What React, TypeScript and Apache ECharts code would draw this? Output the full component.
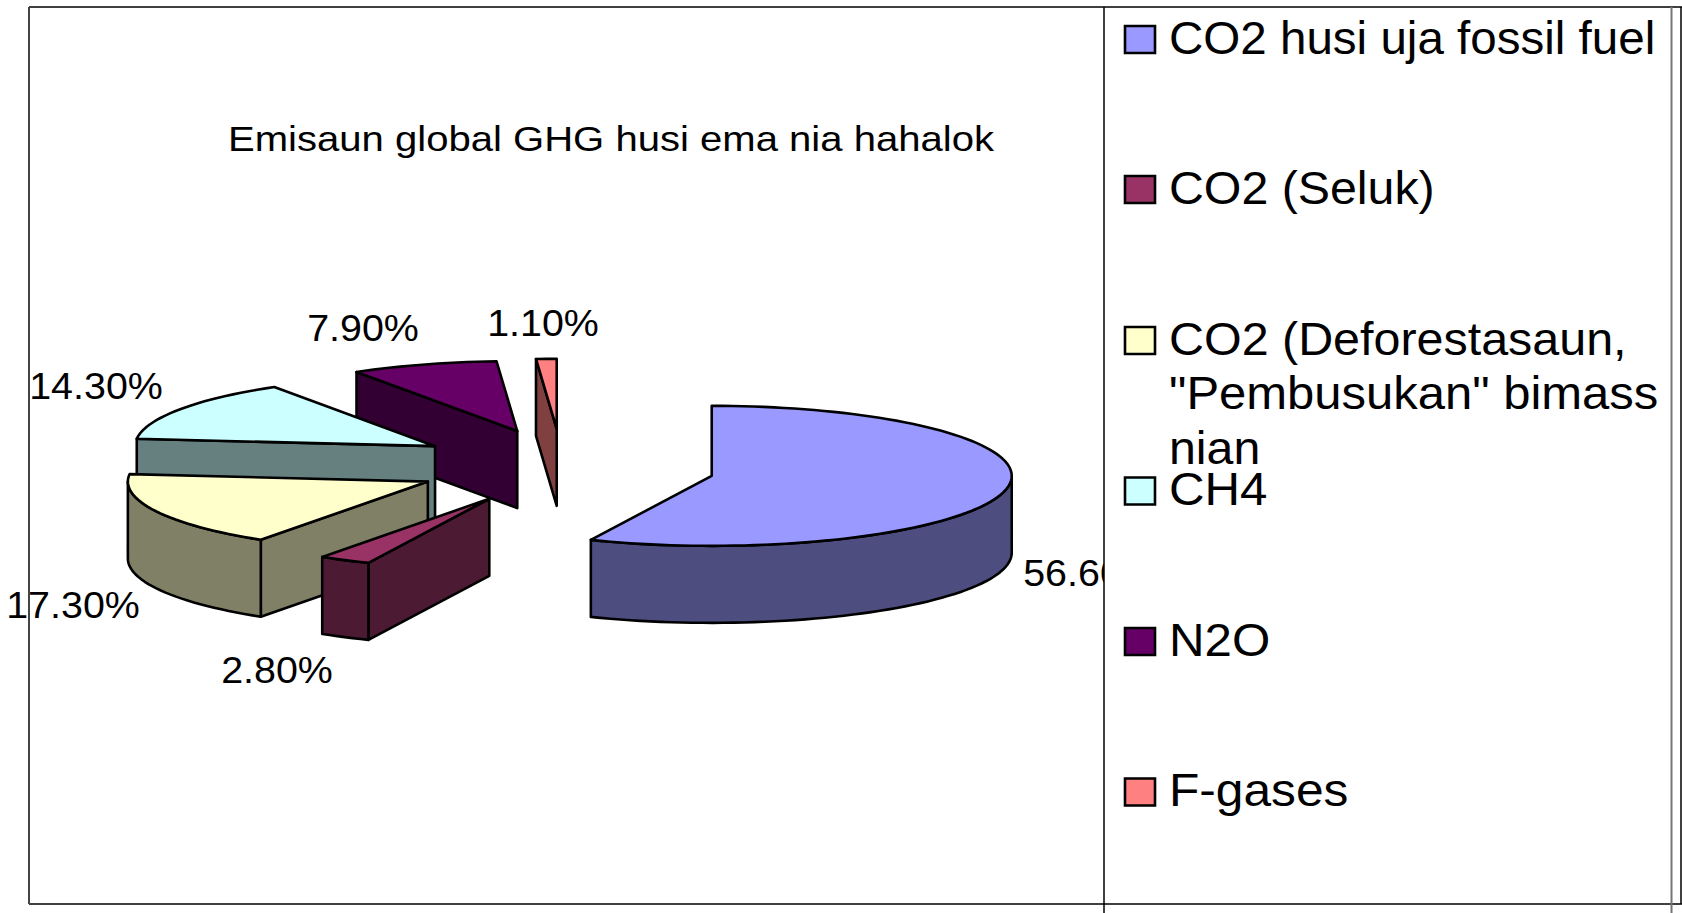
import React, { useEffect, useRef } from "react";
import * as echarts from "echarts";

const categories = [
  "CO2 husi uja fossil fuel",
  "CO2 (Seluk)",
  'CO2 (Deforestasaun,\n"Pembusukan" bimass\nnian',
  "CH4",
  "N2O",
  "F-gases",
];
const shares = [56.6, 2.8, 17.3, 14.3, 7.9, 1.1];
const topColors = ["#9999FF", "#993366", "#FFFFCC", "#CCFFFF", "#660066", "#FF8080"];
const wallColors = ["#4D4D80", "#4D1A33", "#808066", "#668080", "#330033", "#804040"];
const titleText = "Emisaun global GHG husi ema nia hahalok";

// layout, separate from the data
const paintOrder = [5, 4, 3, 2, 1, 0];
const sliceNudge = [
  [-1, 1],
  [0, 0],
  [3.5, -1],
  [2, -2.5],
  [2, -2.5],
  [-1, -3],
];
const labelCentres = [
  [1090, 574],
  [277, 671],
  [73, 606],
  [96, 387],
  [363, 329],
  [543, 324],
];
const legendCentres = [39.5, 189.5, 340.5, 491, 641.5, 792];
const legendStretch = [[1.034], [1.05], [1.053, 1.065, 1.05], [1.07], [1.07], [1.08]];

const PIE = { cx: 563, cy: 467.5, rx: 300, ry: 70, depth: 77, explode: 0.51 };
const rad = (d: number) => (d * Math.PI) / 180;

function rim(apex: number[], deg: number, drop = 0) {
  return [apex[0] + PIE.rx * Math.sin(rad(deg)), apex[1] - PIE.ry * Math.cos(rad(deg)) + drop];
}
function arc(apex: number[], a: number, b: number, drop = 0) {
  const pts: number[][] = [];
  const n = Math.max(2, Math.ceil(Math.abs(b - a) / 2));
  for (let i = 0; i <= n; i++) pts.push(rim(apex, a + ((b - a) * i) / n, drop));
  return pts;
}

const total = shares.reduce((s, v) => s + v, 0);
const lineStyle = { stroke: "#000", lineWidth: 2.6, lineJoin: "round" };

function renderSlice(params: any, api: any) {
  const i = params.dataIndex;
  const value = api.value(0);
  let before = 0;
  for (let k = 0; k < i; k++) before += shares[k];
  const a = (before / total) * 360;
  const b = ((before + value) / total) * 360;
  const mid = (a + b) / 2;
  const apex = [
    PIE.cx + PIE.explode * PIE.rx * Math.sin(rad(mid)) + sliceNudge[i][0],
    PIE.cy - PIE.explode * PIE.ry * Math.cos(rad(mid)) + sliceNudge[i][1],
  ];
  const z = paintOrder[i] * 10;
  const children: any[] = [];
  const wall = (points: number[][], z2: number) =>
    children.push({
      type: "polygon",
      z2,
      shape: { points },
      style: { fill: wallColors[i], ...lineStyle },
    });

  // start radial face, seen only when its normal points at the viewer
  if (-Math.cos(rad(a - 90)) > 1e-6) {
    const e = rim(apex, a);
    wall([apex, e, [e[0], e[1] + PIE.depth], [apex[0], apex[1] + PIE.depth]], z);
  }
  // end radial face
  if (-Math.cos(rad(b + 90)) > 1e-6) {
    const e = rim(apex, b);
    wall([apex, e, [e[0], e[1] + PIE.depth], [apex[0], apex[1] + PIE.depth]], z);
  }
  // front part of the rim
  const fa = Math.max(a, 90);
  const fb = Math.min(b, 270);
  if (fb > fa) {
    wall([...arc(apex, fa, fb), ...arc(apex, fb, fa, PIE.depth)], z + 1);
  }
  // top face
  children.push({
    type: "polygon",
    z2: z + 2,
    shape: { points: [apex, ...arc(apex, a, b)] },
    style: { fill: topColors[i], ...lineStyle },
  });
  // value label
  children.push({
    type: "text",
    z2: 200,
    x: labelCentres[i][0],
    y: labelCentres[i][1],
    scaleX: 1.095,
    style: {
      text: value.toFixed(2) + "%",
      x: 0,
      y: 0,
      fill: "#000",
      font: '36px "Liberation Sans", Arial, sans-serif',
      textAlign: "center",
      textVerticalAlign: "middle",
    },
  });
  return { type: "group", children };
}

const seg = (x1: number, y1: number, x2: number, y2: number, stroke = "#000", lineWidth = 1.5) => ({
  type: "line",
  shape: { x1, y1, x2, y2 },
  style: { stroke, lineWidth },
});

function renderFrame() {
  const children: any[] = [
    { type: "rect", shape: { x: 1104, y: 0, width: 578, height: 913 }, style: { fill: "#fff" } },
    {
      type: "text",
      x: 611,
      y: 139,
      scaleX: 1.145,
      style: {
        text: titleText,
        x: 0,
        y: 0,
        fill: "#000",
        font: '35px "Liberation Sans", Arial, sans-serif',
        textAlign: "center",
        textVerticalAlign: "middle",
      },
    },
  ];
  categories.forEach((name, i) => {
    children.push({
      type: "rect",
      shape: { x: 1125, y: legendCentres[i] - 13.5, width: 30, height: 27 },
      style: { fill: topColors[i], stroke: "#000", lineWidth: 2.6 },
    });
    name.split("\n").forEach((line, k) => {
      children.push({
        type: "text",
        x: 1169,
        y: legendCentres[i] - 24.5 + k * 54.5,
        scaleX: legendStretch[i][k],
        style: {
          text: line,
          x: 0,
          y: 0,
          fill: "#000",
          font: '46px "Liberation Sans", Arial, sans-serif',
          textAlign: "left",
          textVerticalAlign: "top",
        },
      });
    });
  });
  children.push(
    seg(29, 7, 1682, 7),
    seg(29, 904, 1682, 904),
    seg(29, 7, 29, 904, "#444", 2),
    seg(1104, 7, 1104, 913),
    seg(1671.5, 7, 1671.5, 913, "#777", 2),
    seg(1681, 7, 1681, 904)
  );
  return { type: "group", children };
}

export default function App() {
  const ref = useRef<HTMLDivElement>(null);
  useEffect(() => {
    const chart = echarts.init(ref.current!, null, { renderer: "svg" });
    chart.setOption({
      animation: false,
      backgroundColor: "#fff",
      series: [
        {
          type: "custom",
          z: 2,
          coordinateSystem: "none",
          renderItem: renderSlice,
          data: shares.map((v, i) => ({ name: categories[i], value: [v] })),
        },
        {
          type: "custom",
          z: 5,
          coordinateSystem: "none",
          silent: true,
          renderItem: renderFrame,
          data: [[0]],
        },
      ],
    });
    return () => chart.dispose();
  }, []);
  return <div ref={ref} style={{ position: "fixed", left: 0, top: 0, width: 1682, height: 913 }} />;
}
